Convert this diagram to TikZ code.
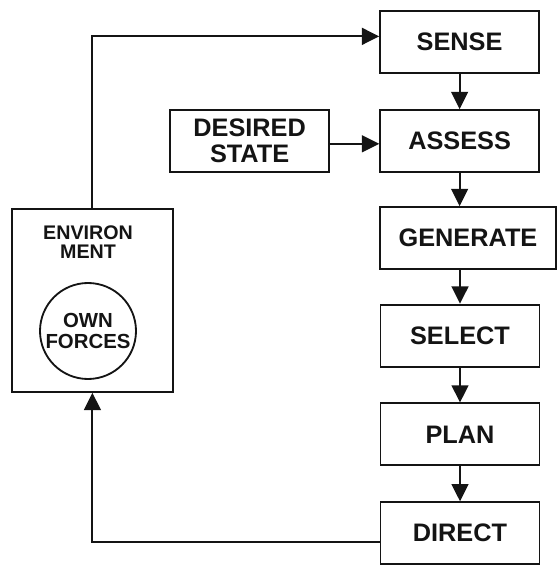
\documentclass[tikz,border=0pt]{standalone}
\usepackage{fontspec}
\setmainfont{Liberation Sans}
\usetikzlibrary{arrows.meta, positioning, calc}
\definecolor{ink}{RGB}{20, 20, 20}

\begin{document}
\begin{tikzpicture}[
    stepbox/.style={
        rectangle,
        draw=ink,
        line width=1.3pt,
        minimum width=#1,
        minimum height=1.55cm,
        text=ink,
        align=center,
        inner sep=2pt,
        font=\fontsize{18}{18.5}\selectfont\bfseries
    },
    stepbox/.default=3.975cm,
    envbox/.style={
        rectangle,
        draw=ink,
        line width=1.3pt,
        minimum width=4.025cm,
        minimum height=4.575cm
    },
    forces/.style={
        circle,
        draw=ink,
        line width=1.3pt,
        minimum size=2.4cm,
        inner sep=0pt,
        text=ink,
        align=center,
        font=\fontsize{14.5}{14.5}\selectfont\bfseries
    },
    arrow/.style={
        -{Triangle[length=0.43cm, width=0.42cm]},
        line width=1.3pt,
        draw=ink
    }
]
\useasboundingbox (0,0) rectangle (13.95,-14.125);

% Right column - the decision steps
\node[stepbox] (sense) at (11.49,-1.05) {SENSE};
\node[stepbox] (assess) at (11.49,-3.525) {ASSESS};
\node[stepbox=4.4cm] (generate) at (11.7,-5.95) {GENERATE};
\node[stepbox] (select) at (11.5,-8.39) {SELECT};
\node[stepbox] (plan) at (11.5,-10.86) {PLAN};
\node[stepbox] (direct) at (11.5,-13.33) {DIRECT};

% Goal input
\node[stepbox] (desired) at (6.24,-3.525) {DESIRED\\STATE};

% Left side - Environment with own forces
\node[envbox] (env) at (2.31,-7.51) {};
\node[text=ink, align=center, font=\fontsize{14}{13.5}\selectfont\bfseries] (envlabel) at (2.2,-6.05) {ENVIRON\\MENT};
\node[forces] (own) at (2.2,-8.275) {OWN\\FORCES};

% Chain of steps
\draw[arrow] (sense) -- (assess);
\draw[arrow] (assess.south) -- (assess.south |- generate.north);
\draw[arrow] (select.north |- generate.south) -- (select);
\draw[arrow] (select) -- (plan);
\draw[arrow] (plan) -- (direct);
\draw[arrow] ([yshift=-2pt]desired.east) -- ([yshift=-2pt]assess.west);

% Feedback loop through the environment
\draw[arrow] (env.north) |- ([yshift=4pt]sense.west);
\draw[arrow] ([yshift=-6pt]direct.west) -| (env.south);

\end{tikzpicture}
\end{document}
